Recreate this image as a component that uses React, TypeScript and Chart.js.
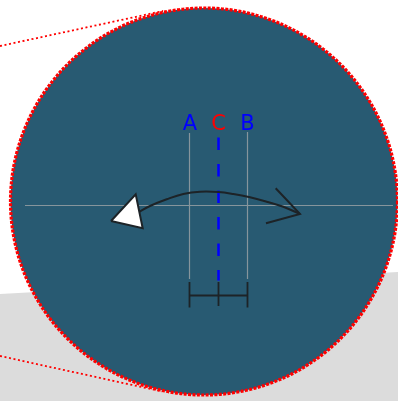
import React, { useEffect, useRef } from "react";
import { Chart, registerables } from "chart.js";

Chart.register(...registerables);

// ---- Diagram data (coordinates in picture units) ----
const grayRegion = [
  { x: 0, y: 294 }, { x: 398, y: 272 }, { x: 398, y: 401 }, { x: 0, y: 401 }, { x: 0, y: 294 },
];
const tangentUpper = [{ x: 0, y: 46 }, { x: 163, y: 11 }];
const tangentLower = [{ x: 0, y: 356 }, { x: 162, y: 391.5 }];
const circleCenter = [{ x: 204, y: 201.5 }];
const circleRadius = 193.5;
const horizontalLine = [{ x: 25, y: 205.5 }, { x: 393, y: 205.5 }];
const lineA = [{ x: 189.5, y: 133 }, { x: 189.5, y: 279 }];
const lineB = [{ x: 247.5, y: 132 }, { x: 247.5, y: 279 }];
const lineC = [{ x: 218.5, y: 137.5 }, { x: 218.5, y: 280.5 }];
const bracketBar = [{ x: 189.5, y: 295.5 }, { x: 247.5, y: 295.5 }];
const bracketTickA = [{ x: 189.5, y: 282 }, { x: 189.5, y: 307.5 }];
const bracketTickC = [{ x: 218.5, y: 282 }, { x: 218.5, y: 306 }];
const bracketTickB = [{ x: 247.5, y: 282 }, { x: 247.5, y: 307.5 }];
const curvePoints = [
  { x: 137.7, y: 212.7 }, { x: 150, y: 206 }, { x: 166.7, y: 199.3 }, { x: 183.3, y: 194 },
  { x: 200, y: 191.7 }, { x: 218.3, y: 192 }, { x: 233.3, y: 194 }, { x: 250, y: 197.3 },
  { x: 266.7, y: 201.7 }, { x: 283.3, y: 206.7 }, { x: 300, y: 214 },
];
const openArrowHead = [{ x: 275.7, y: 188.3 }, { x: 300, y: 214 }, { x: 266, y: 223.3 }];
const filledArrowHead = [
  { x: 111, y: 221 }, { x: 135.7, y: 194.3 }, { x: 142.7, y: 228.3 }, { x: 111, y: 221 },
];
const labelTexts = ["A", "C", "B"];
const labelX = [190, 218.5, 247.5];
const labelY = [130, 130, 130];
const labelColors = ["#0000ff", "#ff0000", "#0000ff"];

const CIRCLE_FILL = "#285a72";
const GRID_GRAY = "#86959c";
const DARK = "#1d2327";

function line(data: any[], color: string, width: number, order: number, dash: number[] = [], extra: any = {}) {
  return {
    data,
    showLine: true,
    borderColor: color,
    borderWidth: width,
    borderDash: dash,
    pointRadius: 0,
    fill: false,
    tension: 0,
    order,
    ...extra,
  };
}

const diagramPlugin = {
  id: "diagram",
  afterDatasetDraw(chart: any, args: any) {
    const ds = chart.data.datasets[args.index];
    if (ds.label !== "circle") return;
    const { ctx, scales } = chart;
    const cx = scales.x.getPixelForValue(circleCenter[0].x);
    const cy = scales.y.getPixelForValue(circleCenter[0].y);
    const r = scales.x.getPixelForValue(circleCenter[0].x + circleRadius) - cx;
    ctx.save();
    ctx.beginPath();
    ctx.arc(cx, cy, r, 0, Math.PI * 2);
    ctx.strokeStyle = "#ff0000";
    ctx.lineWidth = 3.2;
    ctx.setLineDash([3, 1.4]);
    ctx.stroke();
    ctx.restore();
  },
  afterDatasetsDraw(chart: any) {
    const { ctx, scales } = chart;
    ctx.save();
    ctx.font = '21px "DejaVu Sans"';
    ctx.textAlign = "center";
    ctx.textBaseline = "alphabetic";
    labelTexts.forEach((t, i) => {
      ctx.fillStyle = labelColors[i];
      ctx.fillText(t, scales.x.getPixelForValue(labelX[i]), scales.y.getPixelForValue(labelY[i]));
    });
    ctx.restore();
  },
};

export default function App() {
  const ref = useRef<HTMLCanvasElement>(null);
  useEffect(() => {
    document.body.style.margin = "0";
    const chart = new Chart(ref.current!, {
      type: "scatter",
      data: {
        datasets: [
          line(grayRegion, "#dcdcdc", 0, 100, [], { fill: "shape", backgroundColor: "#dcdcdc" }),
          line(tangentUpper, "#ff0000", 1.8, 90, [2, 2.6]),
          line(tangentLower, "#ff0000", 1.8, 90, [2, 2.6]),
          {
            label: "circle",
            data: circleCenter,
            showLine: false,
            pointRadius: (c: any) =>
              c.chart.scales.x.getPixelForValue(circleCenter[0].x + circleRadius) -
              c.chart.scales.x.getPixelForValue(circleCenter[0].x),
            pointBackgroundColor: CIRCLE_FILL,
            pointBorderWidth: 0,
            order: 80,
          },
          line(horizontalLine, GRID_GRAY, 1.2, 50),
          line(lineA, GRID_GRAY, 1.2, 50),
          line(lineB, GRID_GRAY, 1.2, 50),
          line(lineC, "#0000ff", 2.5, 40, [12.5, 14]),
          line(bracketBar, DARK, 1.8, 30),
          line(bracketTickA, DARK, 1.8, 30),
          line(bracketTickC, DARK, 1.8, 30),
          line(bracketTickB, DARK, 1.8, 30),
          line(curvePoints, DARK, 2, 20, [], { tension: 0.4 }),
          line(openArrowHead, DARK, 2, 20),
          line(filledArrowHead, DARK, 2, 10, [], { fill: "shape", backgroundColor: "#ffffff" }),
        ] as any,
      },
      options: {
        animation: false,
        responsive: false,
        events: [],
        layout: { padding: 0 },
        plugins: { legend: { display: false }, tooltip: { enabled: false } },
        scales: {
          x: { type: "linear", min: 0, max: 398, display: false },
          y: { type: "linear", min: 0, max: 401, reverse: true, display: false },
        },
      },
      plugins: [diagramPlugin],
    });
    return () => chart.destroy();
  }, []);
  return (
    <div style={{ position: "absolute", left: 0, top: 0, width: 398, height: 401, background: "#fff" }}>
      <canvas ref={ref} width={398} height={401} />
    </div>
  );
}
